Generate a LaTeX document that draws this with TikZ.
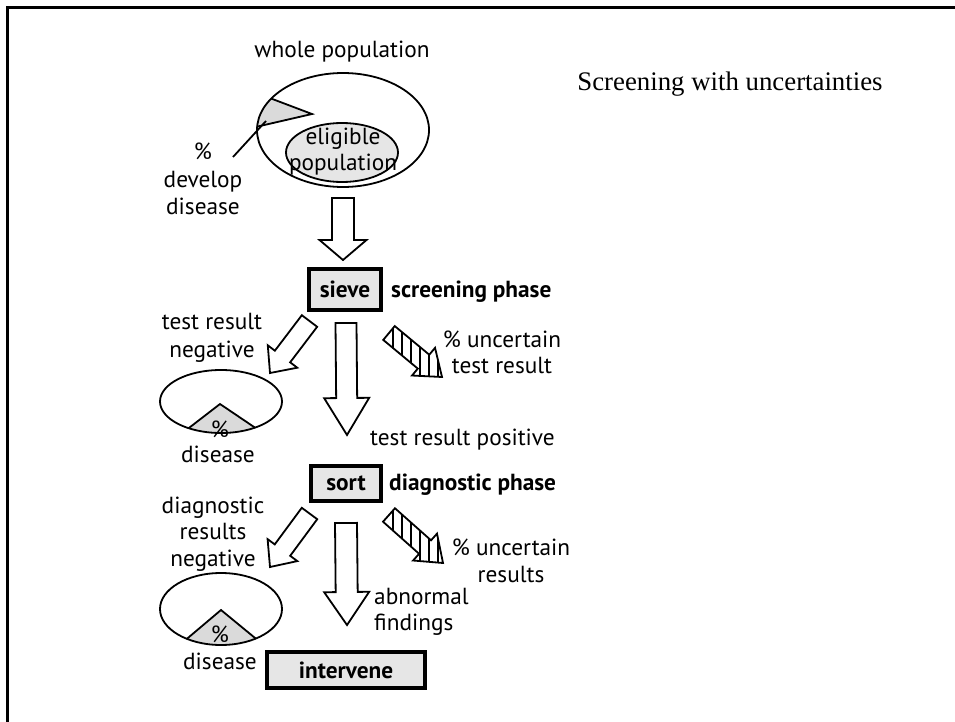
\documentclass[tikz,border=0pt]{standalone}
\usepackage{fontspec}
\setmainfont{PT Sans}
\newfontfamily\titlefont{Liberation Serif}
\usetikzlibrary{calc}
\definecolor{boxgray}{HTML}{E6E6E6}
\definecolor{wedgegray}{HTML}{DADADA}
% block arrow geometry: #1 prefix, #2 tail coord, #3 tip coord, #4 shaft half width, #5 head half width, #6 head length
\newcommand\blkgeom[6]{%
  \coordinate (#1h) at ($(#3)!#6!(#2)$);
  \coordinate (#1p1) at ($(#2)!#4!90:(#3)$);
  \coordinate (#1p2) at ($(#1h)!#4!90:(#3)$);
  \coordinate (#1p3) at ($(#1h)!#5!90:(#3)$);
  \coordinate (#1p4) at ($(#1h)!#5!-90:(#3)$);
  \coordinate (#1p5) at ($(#1h)!#4!-90:(#3)$);
  \coordinate (#1p6) at ($(#2)!#4!-90:(#3)$);
}
\newcommand\blkpath[2]{(#1p1) -- (#1p2) -- (#1p3) -- (#2) -- (#1p4) -- (#1p5) -- (#1p6) -- cycle}
\newcommand\fsz[1]{\fontsize{23.3bp}{#1}\selectfont}
\tikzset{
  stepbox/.style={draw, line width=4bp, fill=boxgray, font=\fsz{27bp}\bfseries, inner sep=0pt},
  lbl/.style={align=center, inner sep=0pt, yshift=-2bp},
  ell/.style={draw, line width=1.8bp},
  blockarrow/.style={draw, line width=1.8bp, fill=white, line join=miter},
  hatch/.style={line width=1.6bp},
}
\begin{document}
\begin{tikzpicture}[x=1bp, y=-1bp, font=\fsz{27bp}]
\useasboundingbox (0,0) rectangle (955,722);
\fill[white] (0,0) rectangle (955,722);
% frame
\draw[line width=3bp] (7.5,722) -- (7.5,7.5) -- (955,7.5);

% title
\node[lbl, font=\titlefont\fontsize{26.8bp}{30bp}\selectfont] (title) at (730,82) {Screening with uncertainties};

% whole population
\node[lbl] (whole) at (342,50) {whole population};
\begin{scope}
  \clip (343,130) ellipse [x radius=86bp, y radius=57bp];
  \fill[wedgegray] (312,114) -- (238,86) -- (208,138) -- cycle;
  \draw[line width=1.8bp] (238,86) -- (312,114) -- (208,138);
\end{scope}
\draw[ell] (343,130) ellipse [x radius=86bp, y radius=57bp];
\draw[ell, fill=boxgray] (342,152.5) ellipse [x radius=56bp, y radius=29.5bp];
\node[lbl, font=\fsz{26bp}] (elig) at (343,150) {eligible\\population};
\node[lbl, font=\fsz{27.5bp}] (develop) at (203,177) {\%\\develop\\disease};
\coordinate (ptrA) at (233,157);
\coordinate (ptrB) at (266,121);
\draw[line width=1.8bp] (ptrA) -- (ptrB);

% arrow 1
\coordinate (a1A) at (343,198);
\coordinate (a1B) at (343,260);
\blkgeom{a1}{a1A}{a1B}{11bp}{23.5bp}{20bp}
\draw[blockarrow] \blkpath{a1}{a1B};

% sieve
\node[stepbox, minimum width=72bp, minimum height=41bp] (sieve) at (345,289.5) {sieve};
\node[lbl, anchor=west, font=\fsz{27bp}\bfseries] (scr) at (391,290) {screening phase};

% left negative 1
\node[lbl, font=\fsz{28bp}] (neg1) at (212,336) {test result\\negative};
\coordinate (l1A) at (309.5,321);
\coordinate (l1B) at (270,373);
\blkgeom{l1}{l1A}{l1B}{9.6bp}{18.5bp}{20.7bp}
\draw[blockarrow] \blkpath{l1}{l1B};

% centre arrow 2
\coordinate (a2A) at (346,323);
\coordinate (a2B) at (347,435);
\blkgeom{a2}{a2A}{a2B}{10.5bp}{22.5bp}{37bp}
\draw[blockarrow] \blkpath{a2}{a2B};

% right hatched 1
\coordinate (r1A) at (389,333);
\coordinate (r1B) at (442,377);
\blkgeom{r1}{r1A}{r1B}{9bp}{18bp}{24bp}
\fill[white] \blkpath{r1}{r1B};
\begin{scope}
  \clip \blkpath{r1}{r1B};
  \foreach \x in {393,402,...,447} \draw[hatch] (\x,320) -- (\x,385);
\end{scope}
\draw[blockarrow, fill=none] \blkpath{r1}{r1B};
\node[lbl, font=\fsz{26bp}] (unc1) at (502,350) {\% uncertain\\test result};

% ellipse 2
\begin{scope}
  \clip (221,401.5) ellipse [x radius=61bp, y radius=31.5bp];
  \fill[wedgegray] (220,404) -- (150,458) -- (294,454) -- cycle;
  \draw[line width=1.8bp] (150,458) -- (220,404) -- (294,454);
\end{scope}
\draw[ell] (221,401.5) ellipse [x radius=61bp, y radius=31.5bp];
\node[lbl] (pc2) at (220,427) {\%};
\node[lbl] (dis2) at (218,452) {disease};

\node[lbl] (pos) at (462.5,438) {test result positive};

% sort
\node[stepbox, minimum width=70bp, minimum height=35bp] (sort) at (346,483.5) {sort};
\node[lbl, anchor=west, font=\fsz{27bp}\bfseries] (diag) at (389,483) {diagnostic phase};

% left negative 2
\node[lbl, font=\fsz{26.5bp}] (neg2) at (213,532) {diagnostic\\results\\negative};
\coordinate (l2A) at (309.5,513.5);
\coordinate (l2B) at (270,567);
\blkgeom{l2}{l2A}{l2B}{9.6bp}{18.5bp}{21bp}
\draw[blockarrow] \blkpath{l2}{l2B};

% centre arrow 3
\coordinate (a3A) at (346,523);
\coordinate (a3B) at (347,625);
\blkgeom{a3}{a3A}{a3B}{11bp}{22.5bp}{33bp}
\draw[blockarrow] \blkpath{a3}{a3B};

% right hatched 2
\coordinate (r2A) at (389,515);
\coordinate (r2B) at (443,563);
\blkgeom{r2}{r2A}{r2B}{9bp}{18bp}{24bp}
\fill[white] \blkpath{r2}{r2B};
\begin{scope}
  \clip \blkpath{r2}{r2B};
  \foreach \x in {393,402,...,447} \draw[hatch] (\x,500) -- (\x,575);
\end{scope}
\draw[blockarrow, fill=none] \blkpath{r2}{r2B};
\node[lbl, font=\fsz{27bp}] (unc2) at (511,558.5) {\% uncertain\\results};

\node[lbl, anchor=west, align=left, font=\fsz{26bp}] (abn) at (374,610) {abnormal\\findings};

% ellipse 3
\begin{scope}
  \clip (221,609) ellipse [x radius=61bp, y radius=36bp];
  \fill[wedgegray] (221,610) -- (150,670) -- (294,670) -- cycle;
  \draw[line width=1.8bp] (150,670) -- (221,610) -- (294,670);
\end{scope}
\draw[ell] (221,609) ellipse [x radius=61bp, y radius=36bp];
\node[lbl] (pc3) at (220,632) {\%};
\node[lbl] (dis3) at (220,659) {disease};

% intervene
\node[stepbox, minimum width=158bp, minimum height=36bp] (interv) at (346,670) {intervene};
\end{tikzpicture}
\end{document}
